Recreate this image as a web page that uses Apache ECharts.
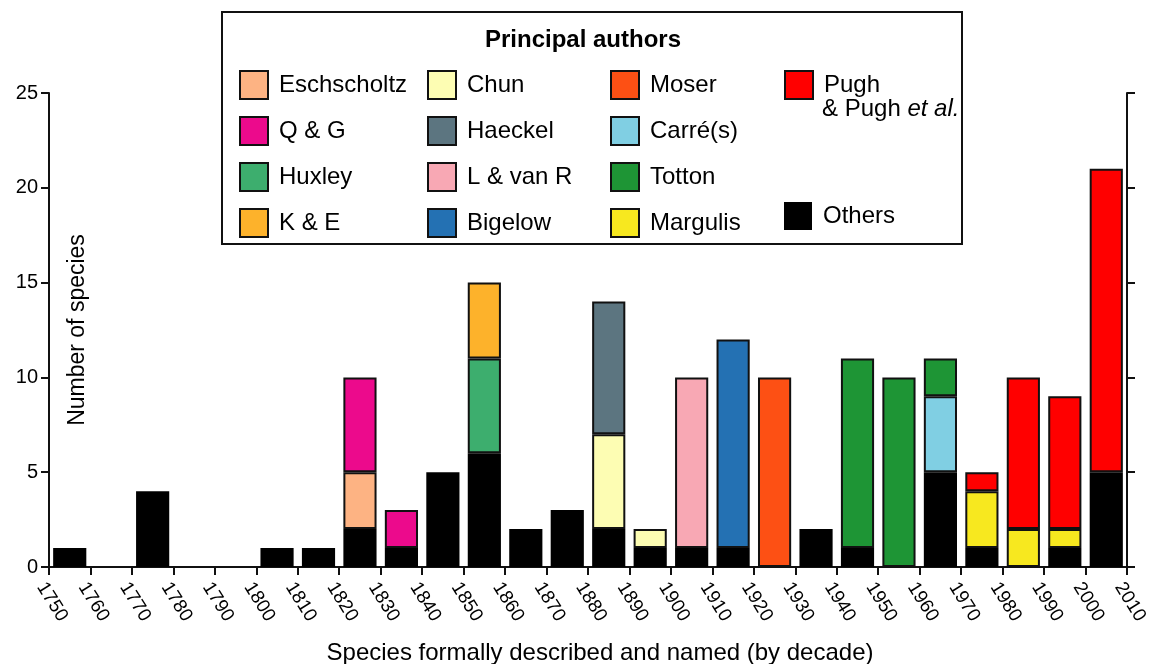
<!DOCTYPE html>
<html>
<head>
<meta charset="utf-8">
<title>Species described by decade</title>
<script src="https://cdn.jsdelivr.net/npm/echarts@6/dist/echarts.min.js"></script>
<style>
  html, body { margin: 0; padding: 0; background: #fff; }
  #chart { width: 1149px; height: 664px; }
</style>
</head>
<body>
<div id="chart"></div>
<script>
// decades (start year) shown as bars
const decades = [1750, 1760, 1770, 1780, 1790, 1800, 1810, 1820, 1830, 1840, 1850, 1860, 1870,
  1880, 1890, 1900, 1910, 1920, 1930, 1940, 1950, 1960, 1970, 1980, 1990, 2000];
// tick labels on the x axis (decade boundaries)
const yearTicks = [1750, 1760, 1770, 1780, 1790, 1800, 1810, 1820, 1830, 1840, 1850, 1860, 1870,
  1880, 1890, 1900, 1910, 1920, 1930, 1940, 1950, 1960, 1970, 1980, 1990, 2000, 2010];
const yTicks = [0, 5, 10, 15, 20, 25];

// species per decade for each author: [decade, count]
const others = [[1750, 1], [1770, 4], [1800, 1], [1810, 1], [1820, 2], [1830, 1], [1840, 5],
  [1850, 6], [1860, 2], [1870, 3], [1880, 2], [1890, 1], [1900, 1], [1910, 1], [1930, 2],
  [1940, 1], [1960, 5], [1970, 1], [1990, 1], [2000, 5]];
const eschscholtz = [[1820, 3]];
const quoyGaimard = [[1820, 5], [1830, 2]];
const huxley = [[1850, 5]];
const kolliker = [[1850, 4]];
const chun = [[1880, 5], [1890, 1]];
const haeckel = [[1880, 7]];
const lensVanR = [[1900, 9]];
const bigelow = [[1910, 11]];
const moser = [[1920, 10]];
const carre = [[1960, 4]];
const totton = [[1940, 10], [1950, 10], [1960, 2]];
const margulis = [[1970, 3], [1980, 2], [1990, 1]];
const pugh = [[1970, 1], [1980, 8], [1990, 7], [2000, 16]];

// stacking order = bottom to top
const authors = [
  { name: 'Others', color: '#000000', values: others },
  { name: 'Eschscholtz', color: '#fdb383', values: eschscholtz },
  { name: 'Q & G', color: '#ec0a8c', values: quoyGaimard },
  { name: 'Huxley', color: '#3dae6e', values: huxley },
  { name: 'K & E', color: '#fdb22b', values: kolliker },
  { name: 'Chun', color: '#fdfdb3', values: chun },
  { name: 'Haeckel', color: '#5c7580', values: haeckel },
  { name: 'L & van R', color: '#f8a8b4', values: lensVanR },
  { name: 'Bigelow', color: '#2471b3', values: bigelow },
  { name: 'Moser', color: '#fd5014', values: moser },
  { name: 'Carré(s)', color: '#80cfe3', values: carre },
  { name: 'Totton', color: '#1e9535', values: totton },
  { name: 'Margulis', color: '#f7e81f', values: margulis },
  { name: 'Pugh', color: '#ff0000', values: pugh }
];

const font = "'Liberation Sans', Arial, sans-serif";

const series = authors.map(a => {
  const lookup = {};
  a.values.forEach(v => { lookup[v[0]] = v[1]; });
  return {
    name: a.name,
    type: 'bar',
    stack: 'total',
    xAxisIndex: 0,
    yAxisIndex: 0,
    barCategoryGap: '20%',
    itemStyle: {
      color: a.color,
      borderColor: '#111',
      borderWidth: a.name === 'Others' ? 0 : 2
    },
    emphasis: { disabled: true },
    data: decades.map(d => (lookup[d] === undefined ? null : lookup[d]))
  };
});

const legendBase = {
  orient: 'vertical',
  top: 70,
  itemWidth: 28,
  itemHeight: 28,
  itemGap: 16,
  selectedMode: false,
  icon: 'rect',
  padding: 0,
  textStyle: { fontFamily: font, fontSize: 24, lineHeight: 28, color: '#000', padding: [0, 0, 0, 6] }
};

const myChart = echarts.init(document.getElementById('chart'));

const option = {
  animation: false,
  backgroundColor: '#fff',
  title: {
    text: 'Principal authors',
    left: 583,
    top: 28,
    padding: 0,
    textAlign: 'center',
    textStyle: { fontFamily: font, fontSize: 24, fontWeight: 'bold', color: '#000' }
  },
  graphic: [
    {
      type: 'rect',
      z: 0,
      shape: { x: 222, y: 12, width: 740, height: 232 },
      style: { fill: '#fff', stroke: '#111', lineWidth: 2 }
    },
    {
      type: 'text',
      z: 5,
      left: 822,
      top: 97,
      style: {
        text: '{n|& Pugh }{i|et al.}',
        rich: {
          n: { fontFamily: font, fontSize: 24, fill: '#000' },
          i: { fontFamily: font, fontSize: 24, fontStyle: 'italic', fill: '#000' }
        }
      }
    }
  ],
  legend: [
    Object.assign({}, legendBase, { left: 239, data: ['Eschscholtz', 'Q & G', 'Huxley', 'K & E'] }),
    Object.assign({}, legendBase, { left: 427, data: ['Chun', 'Haeckel', 'L & van R', 'Bigelow'] }),
    Object.assign({}, legendBase, { left: 610, data: ['Moser', 'Carré(s)', 'Totton', 'Margulis'] }),
    Object.assign({}, legendBase, { left: 784, data: ['Pugh'] }),
    Object.assign({}, legendBase, { left: 784, top: 202, data: ['Others'] })
  ],
  grid: {
    left: 49,
    right: 22,
    top: 93,
    bottom: 97,
    containLabel: false,
    outerBoundsMode: 'none'
  },
  xAxis: [
    {
      type: 'category',
      data: decades.map(d => d + 's'),
      boundaryGap: true,
      axisLine: { show: false },
      axisTick: { show: false },
      axisLabel: { show: false },
      splitLine: { show: false }
    },
    {
      type: 'value',
      position: 'bottom',
      min: yearTicks[0],
      max: yearTicks[yearTicks.length - 1],
      interval: 10,
      axisLine: { show: true, onZero: false, lineStyle: { color: '#111', width: 2 } },
      axisTick: { show: true, inside: false, length: 8, lineStyle: { color: '#111', width: 2 } },
      axisLabel: {
        rotate: -58,
        margin: 12,
        verticalAlign: 'top',
        fontFamily: font,
        fontSize: 19,
        color: '#000',
        formatter: v => (yearTicks.indexOf(v) >= 0 ? String(v) : '')
      },
      splitLine: { show: false },
      name: 'Species formally described and named (by decade)',
      nameLocation: 'middle',
      nameGap: 74,
      nameTextStyle: { fontFamily: font, fontSize: 24, color: '#000', padding: [0, 0, 0, 24] }
    }
  ],
  yAxis: [
    {
      type: 'value',
      position: 'left',
      min: yTicks[0],
      max: yTicks[yTicks.length - 1],
      interval: 5,
      axisLine: { show: true, lineStyle: { color: '#111', width: 2 } },
      axisTick: { show: true, inside: false, length: 8, lineStyle: { color: '#111', width: 2 } },
      axisLabel: { margin: 11, fontFamily: font, fontSize: 20, color: '#000' },
      splitLine: { show: false },
      name: 'Number of species',
      nameLocation: 'middle',
      nameRotate: 90,
      nameGap: -40,
      nameTextStyle: { fontFamily: font, fontSize: 23, color: '#000' }
    },
    {
      type: 'value',
      position: 'right',
      min: yTicks[0],
      max: yTicks[yTicks.length - 1],
      interval: 5,
      axisLine: { show: true, lineStyle: { color: '#111', width: 2 } },
      axisTick: { show: true, inside: false, length: 8, lineStyle: { color: '#111', width: 2 } },
      axisLabel: { show: false },
      splitLine: { show: false }
    }
  ],
  series: series
};

myChart.setOption(option);

window.addEventListener('resize', () => {
  myChart.resize();
});
</script>
</body>
</html>
